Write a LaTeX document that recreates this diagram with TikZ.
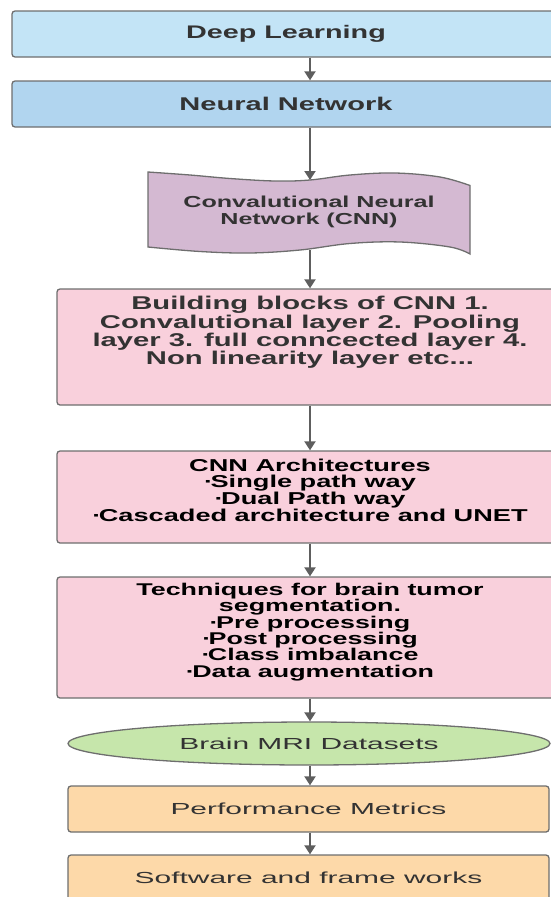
\documentclass[tikz,border=0pt]{standalone}
\usepackage{fontspec}
\usetikzlibrary{shapes.geometric,arrows.meta}
% wide sans faces used for all labels
\newfontfamily\boldlbl[FakeStretch=1.58]{Liberation Sans}
\newfontfamily\plainlbl[FakeStretch=1.87]{Liberation Sans}
% bullet dot set tight against the following word
\newcommand{\bdot}{·\kern-2.5pt}

\definecolor{edge}{HTML}{6E6E6E}
\definecolor{link}{HTML}{5E5E5E}
\definecolor{ink}{HTML}{333333}
\definecolor{blueA}{HTML}{C3E4F6}
\definecolor{blueB}{HTML}{B1D5EF}
\definecolor{lilac}{HTML}{D4B9D2}
\definecolor{pinkbox}{HTML}{F9D0DC}
\definecolor{greenbox}{HTML}{C6E6AB}
\definecolor{orangebox}{HTML}{FDD9A9}

\tikzset{
  box/.style={draw=edge, line width=1.3pt, rounded corners=3pt, inner sep=0pt},
  boldtext/.style={font=\boldlbl\bfseries, text=ink, align=center, inner sep=0pt},
  plaintext/.style={font=\plainlbl\fontsize{16}{18}\selectfont, text=ink},
  flow/.style={draw=link, line width=2pt,
    -{Triangle[width=11pt,length=9pt]}},
}

\begin{document}
\begin{tikzpicture}[x=1pt, y=-1pt]
\useasboundingbox (0,0) rectangle (551,897);

% column of the connectors
\coordinate (ax) at (310,0);

% top blue boxes
\node[box, fill=blueA, minimum width=548pt, minimum height=46pt,
      boldtext, font=\boldlbl\bfseries\fontsize{18.2}{20}\selectfont]
  (dl) at (286,34) {Deep Learning};
\node[box, fill=blueB, minimum width=548pt, minimum height=46pt,
      boldtext, font=\boldlbl\bfseries\fontsize{18.4}{20}\selectfont]
  (nn) at (286,104) {Neural Network};

% wavy tape shape
\draw[draw=edge, line width=1.3pt, fill=lilac]
  plot[smooth, tension=0.6] coordinates {(148,172) (190,175) (230,178.5) (275,181) (310,180) (350,175) (395,173) (440,177) (470,185.5)}
  -- plot[smooth, tension=0.6] coordinates {(470,254) (450,247) (400,242) (350,243.5) (300,250) (250,253) (200,251.5) (148,247)}
  -- cycle;
\coordinate (cnntop) at (310,180);
\coordinate (cnnbot) at (310,250);
\node[boldtext, font=\boldlbl\bfseries\fontsize{15.9}{16.6}\selectfont]
  (cnn) at (309,212) {Convalutional Neural\\Network (CNN)};

% pink boxes
\node[box, fill=pinkbox, minimum width=506pt, minimum height=116pt]
  (bb) at (310,347) {};
\node[boldtext, anchor=north, font=\boldlbl\bfseries\fontsize{18.5}{18.4}\selectfont]
  (bbtext) at (310,296) {Building blocks of CNN 1.\\Convalutional layer 2. Pooling\\layer 3. full conncected layer 4.\\Non linearity layer etc...};

\node[box, fill=pinkbox, minimum width=506pt, minimum height=92pt]
  (arch) at (310,497) {};
\node[boldtext, text=black, font=\boldlbl\bfseries\fontsize{17.2}{16.7}\selectfont]
  (archtext) at (310,490) {CNN Architectures\\\bdot Single path way\\\bdot Dual Path way\\\bdot Cascaded architecture and UNET};

\node[box, fill=pinkbox, minimum width=506pt, minimum height=121pt]
  (tech) at (310,637.5) {};
\node[boldtext, text=black, font=\boldlbl\bfseries\fontsize{17}{16.3}\selectfont]
  (techtext) at (310,632) {Techniques for brain tumor\\segmentation.\\\bdot Pre processing\\\bdot Post processing\\\bdot Class imbalance\\\bdot Data augmentation};

% datasets ellipse and orange boxes
\node[ellipse, draw=edge, line width=1.3pt, fill=greenbox, inner sep=0pt,
      minimum width=482pt, minimum height=43pt, plaintext]
  (mri) at (309,743.5) {Brain MRI Datasets};
\node[box, fill=orangebox, minimum width=481pt, minimum height=46pt, plaintext]
  (perf) at (308.5,809) {Performance Metrics};
\node[box, fill=orangebox, minimum width=481pt, minimum height=46pt, plaintext]
  (soft) at (308.5,878) {Software and frame works};

% connectors
\draw[flow] (dl.south -| ax) -- (nn.north -| ax);
\draw[flow] (nn.south -| ax) -- (cnntop);
\draw[flow] (cnnbot) -- (bb.north -| ax);
\draw[flow] (bb.south -| ax) -- (arch.north -| ax);
\draw[flow] (arch.south -| ax) -- (tech.north -| ax);
\draw[flow] (tech.south -| ax) -- (mri.north -| ax);
\draw[flow] (mri.south -| ax) -- (perf.north -| ax);
\draw[flow] (perf.south -| ax) -- (soft.north -| ax);
\end{tikzpicture}
\end{document}
